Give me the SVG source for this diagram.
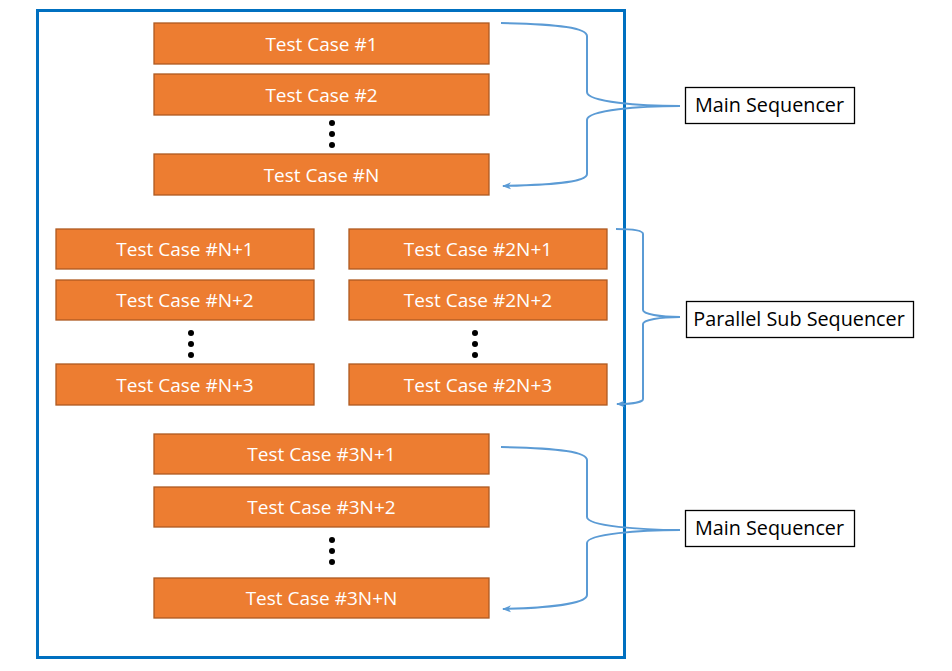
<svg xmlns="http://www.w3.org/2000/svg" width="952" height="671" viewBox="0 0 952 671">
<style>
.tc rect{fill:#ED7D31;stroke:#AE5A21;stroke-width:1.3}
.tc text{fill:#fff;font-family:"Open Sans","Noto Sans",sans-serif;font-size:19px;text-anchor:middle}
.lbl rect{fill:#fff;stroke:#000;stroke-width:1.3}
.lbl text{fill:#000;font-family:"Open Sans","Noto Sans",sans-serif;font-size:19.8px;text-anchor:middle}
.dot{fill:#000}
.br{fill:none;stroke:#5B9BD5;stroke-width:2}
</style>
<defs>
<marker id="ah" viewBox="0 0 10 10" refX="8" refY="5" markerWidth="10" markerHeight="10" orient="auto" markerUnits="userSpaceOnUse">
<path d="M0,1.5 L9,5 L0,8.5 L2.5,5 Z" fill="#5B9BD5"/>
</marker>
</defs>
<rect id="frame" x="37.5" y="10.5" width="587" height="647" fill="#fff" stroke="#0070C0" stroke-width="3"/>

<g id="tc1" class="tc"><rect x="154" y="23" width="335" height="41"/><text x="321.5" y="50.5">Test Case #1</text></g>
<g id="tc2" class="tc"><rect x="154" y="74" width="335" height="41"/><text x="321.5" y="101.5">Test Case #2</text></g>
<g id="dots1"><circle class="dot" cx="332" cy="123" r="3"/><circle class="dot" cx="332" cy="134" r="3"/><circle class="dot" cx="332" cy="145" r="3"/></g>
<g id="tcN" class="tc"><rect x="154" y="154" width="335" height="41"/><text x="321.5" y="181.5">Test Case #N</text></g>

<g id="tcN1" class="tc"><rect x="56" y="229" width="258" height="40"/><text x="185" y="256">Test Case #N+1</text></g>
<g id="tcN2" class="tc"><rect x="56" y="280" width="258" height="40"/><text x="185" y="307">Test Case #N+2</text></g>
<g id="dots2"><circle class="dot" cx="191" cy="333" r="3"/><circle class="dot" cx="191" cy="344" r="3"/><circle class="dot" cx="191" cy="355" r="3"/></g>
<g id="tcN3" class="tc"><rect x="56" y="364" width="258" height="41"/><text x="185" y="391.5">Test Case #N+3</text></g>

<g id="tc2N1" class="tc"><rect x="349" y="229" width="258" height="40"/><text x="478" y="256">Test Case #2N+1</text></g>
<g id="tc2N2" class="tc"><rect x="349" y="280" width="258" height="40"/><text x="478" y="307">Test Case #2N+2</text></g>
<g id="dots3"><circle class="dot" cx="475" cy="333" r="3"/><circle class="dot" cx="475" cy="344" r="3"/><circle class="dot" cx="475" cy="355" r="3"/></g>
<g id="tc2N3" class="tc"><rect x="349" y="364" width="258" height="41"/><text x="478" y="391.5">Test Case #2N+3</text></g>

<g id="tc3N1" class="tc"><rect x="154" y="434" width="335" height="40"/><text x="321.5" y="461">Test Case #3N+1</text></g>
<g id="tc3N2" class="tc"><rect x="154" y="487" width="335" height="40"/><text x="321.5" y="514">Test Case #3N+2</text></g>
<g id="dots4"><circle class="dot" cx="332" cy="540" r="3"/><circle class="dot" cx="332" cy="551" r="3"/><circle class="dot" cx="332" cy="562" r="3"/></g>
<g id="tc3NN" class="tc"><rect x="154" y="578" width="335" height="40"/><text x="321.5" y="605">Test Case #3N+N</text></g>

<g id="connectors">
<path class="br" d="M501,23 C560,24 587,28 587,36 L587,92 C587,102 640,106 680,106 C640,106 587,110 587,120 L587,174 C587,183 545,185 503,186" marker-end="url(#ah)"/>
<path class="br" d="M616,229 C630,229 643,230 643,234 L643,310 C643,314 660,317 680,317 C660,317 643,320 643,324 L643,399 C643,402 632,404 617,404" marker-end="url(#ah)"/>
<path class="br" d="M501,447 C560,448 587,452 587,460 L587,517 C587,526 640,530 680,530 C640,530 587,534 587,543 L587,595 C587,604 545,608 503,609" marker-end="url(#ah)"/>
</g>

<g id="lblMain1" class="lbl"><rect x="685.5" y="87.5" width="169" height="36"/><text x="769.5" y="112">Main Sequencer</text></g>
<g id="lblPar" class="lbl"><rect x="686.5" y="301.5" width="227" height="36"/><text x="799" y="326">Parallel Sub Sequencer</text></g>
<g id="lblMain2" class="lbl"><rect x="685.5" y="510.5" width="169" height="36"/><text x="769.5" y="535">Main Sequencer</text></g>
</svg>
